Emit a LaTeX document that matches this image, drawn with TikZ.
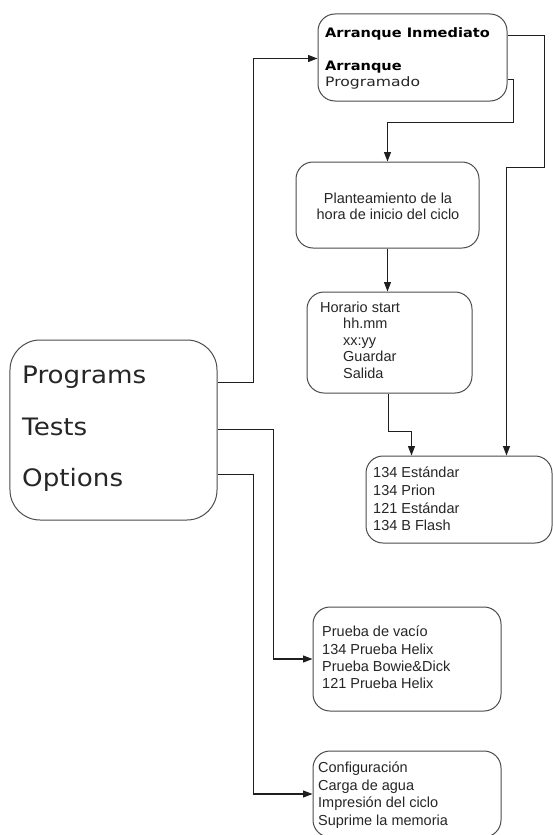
\documentclass[tikz,border=0pt]{standalone}
\usepackage{fontspec}
\usetikzlibrary{arrows.meta,calc}
\newfontfamily\arialf{Liberation Sans}
\newfontfamily\verdbig[FakeStretch=1.09]{DejaVu Sans}
\newfontfamily\verdreg[FakeStretch=1.2]{DejaVu Sans}
\newfontfamily\verdbold[FakeStretch=1.12]{DejaVu Sans}
\definecolor{boxc}{gray}{0.3}
\definecolor{linec}{gray}{0.12}
\tikzset{
  box/.style={draw=boxc, line width=1bp, rounded corners=17bp, inner sep=0pt, fill=white},
  conn/.style={draw=linec, line width=1.1bp},
  arr/.style={conn, -{Triangle[length=9.5bp,width=7bp]}},
  txt/.style={anchor=base west, inner sep=0pt, font=\arialf\fontsize{14.5bp}{17bp}\selectfont, text=black!85},
  txtc/.style={txt, anchor=base},
  bigtxt/.style={anchor=base west, inner sep=0pt, font=\verdbig\fontsize{24bp}{28bp}\selectfont, text=black!85},
  boldtxt/.style={anchor=base west, inner sep=0pt, font=\verdbold\bfseries\fontsize{13bp}{15bp}\selectfont, text=black},
  regtxt/.style={anchor=base west, inner sep=0pt, font=\verdreg\fontsize{13bp}{15bp}\selectfont, text=black!85},
}
\begin{document}
\begin{tikzpicture}[x=1bp,y=-1bp]
\fill[white] (0,0) rectangle (553,835);
\useasboundingbox (0,0) rectangle (553,835);

% boxes
\node[box, minimum width=189bp, minimum height=87bp] (arr) at (412.5,57.5) {};
\node[box, minimum width=183bp, minimum height=86bp] (plan) at (387.5,205) {};
\node[box, minimum width=165bp, minimum height=101bp] (hor) at (389.5,342.5) {};
\node[box, minimum width=186bp, minimum height=87bp] (std) at (459,499.5) {};
\node[box, rounded corners=30bp, minimum width=207bp, minimum height=180bp] (main) at (113.5,430) {};
\node[box, minimum width=188bp, minimum height=104bp] (prue) at (407,659) {};
\node[box, minimum width=188bp, minimum height=86bp] (conf) at (407,794) {};

% texts
\node[boldtxt] (a1) at (325,37.5) {Arranque Inmediato};
\node[boldtxt] (a2) at (325,70) {Arranque};
\node[regtxt] (a3) at (325,86) {Programado};

\node[txtc] (p1) at (388,203) {Planteamiento de la};
\node[txtc] (p2) at (388,219.5) {hora de inicio del ciclo};

\node[txt] (h1) at (320,312) {Horario start};
\node[txt] (h2) at (343,328.5) {hh.mm};
\node[txt] (h3) at (343,345) {xx:yy};
\node[txt] (h4) at (343,361.5) {Guardar};
\node[txt] (h5) at (343,378) {Salida};

\node[txt] (s1) at (373,477.3) {134 Estándar};
\node[txt] (s2) at (373,495) {134 Prion};
\node[txt] (s3) at (373,513) {121 Estándar};
\node[txt] (s4) at (373,530.7) {134 B Flash};

\node[bigtxt] (m1) at (22,383) {Programs};
\node[bigtxt] (m2) at (22,435) {Tests};
\node[bigtxt] (m3) at (22,486.7) {Options};

\node[txt] (r1) at (322,636.7) {Prueba de vacío};
\node[txt] (r2) at (322,654) {134 Prueba Helix};
\node[txt] (r3) at (322,671.5) {Prueba Bowie\&Dick};
\node[txt] (r4) at (322,688.5) {121 Prueba Helix};

\node[txt] (c1) at (318,772.3) {Configuración};
\node[txt] (c2) at (318,790) {Carga de agua};
\node[txt] (c3) at (318,807.3) {Impresión del ciclo};
\node[txt] (c4) at (318,825) {Suprime la memoria};

% connectors
\draw[arr] ($(arr.north east)+(0,22)$) -| ($(arr.north east)+(37,154)$) -| ($(std.north west)+(141,0)$);
\draw[arr] ($(arr.north east)+(0,66)$) -| ($(arr.north east)+(6,109)$) -| (plan.north);
\draw[arr] (plan.south) -- (plan.south |- hor.north);
\draw[arr] ($(hor.south west)+(82,0)$) |- ($(std.north west)+(46,-24)$) -- ($(std.north west)+(46,0)$);
\draw[arr] ($(main.north east)+(0,43)$) -| ($(arr.north west)+(-64,45)$) -- ($(arr.north west)+(0,45)$);
\draw[arr] ($(main.north east)+(0,90)$) -| ($(prue.west)+(-39,0)$) -- (prue.west);
\draw[arr] ($(main.north east)+(0,135)$) -| ($(conf.west)+(-59,0)$) -- (conf.west);
\end{tikzpicture}
\end{document}
